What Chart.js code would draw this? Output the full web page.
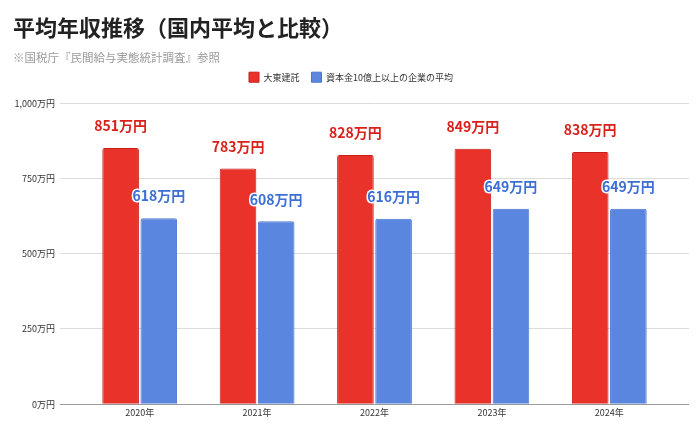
<!DOCTYPE html>
<html>
<head>
<meta charset="utf-8">
<script src="https://cdn.jsdelivr.net/npm/chart.js@4"></script>
<style>
  html, body { margin: 0; padding: 0; background: #fff; }
  #wrap { width: 700px; height: 438px; }
</style>
</head>
<body>
<div id="wrap"><canvas id="incomeChart"></canvas></div>
<script>
// ============================================
// DATA
// ============================================
const yearLabels   = ['2020年', '2021年', '2022年', '2023年', '2024年'];
const daitoValues  = [851, 783, 828, 849, 838];
const averageValues = [618, 608, 616, 649, 649];
const seriesNames  = ['大東建託', '資本金10億上以上の企業の平均'];
const yTicks       = [0, 250, 500, 750, 1000];

const FONT = '"Noto Sans CJK JP", "Noto Sans", sans-serif';
const RED = '#e8322a';
const BLUE = '#5a86e0';

// draw value labels above each bar
const valueLabels = {
    id: 'valueLabels',
    afterDatasetsDraw(chart) {
        const c = chart.ctx;
        const colors = ['#d8211b', '#3c6fd4'];
        chart.data.datasets.forEach((ds, di) => {
            chart.getDatasetMeta(di).data.forEach((bar, i) => {
                const txt = ds.data[i] + '万円';
                c.save();
                c.font = 'bold 14px ' + FONT;
                c.textAlign = 'center';
                c.textBaseline = 'middle';
                if (di === 1) {
                    c.lineWidth = 3;
                    c.lineJoin = 'round';
                    c.strokeStyle = '#fff';
                    c.strokeText(txt, bar.x, bar.y - 22);
                }
                c.fillStyle = colors[di];
                c.fillText(txt, bar.x, bar.y - 22);
                c.restore();
            });
        });
    }
};

// extra space under the legend
const legendGap = {
    id: 'legendGap',
    beforeInit(chart) {
        const fit = chart.legend.fit;
        chart.legend.fit = function () {
            fit.bind(chart.legend)();
            this.height += 11;
        };
    }
};

const gridColor = ctx => (ctx.tick && ctx.tick.value === 0) ? '#9a9a9a' : '#dcdcdc';

new Chart(document.getElementById('incomeChart'), {
    type: 'bar',
    data: {
        labels: yearLabels,
        datasets: [
            {
                label: seriesNames[0],
                data: daitoValues,
                backgroundColor: RED,
                borderColor: '#c61f19',
                borderWidth: 1,
                borderRadius: 2,
                borderSkipped: 'bottom',
                categoryPercentage: 0.65,
                barPercentage: 0.96,
                yAxisID: 'y'
            },
            {
                label: seriesNames[1],
                data: averageValues,
                backgroundColor: BLUE,
                borderColor: '#4a74cc',
                borderWidth: 1,
                borderRadius: 2,
                borderSkipped: 'bottom',
                categoryPercentage: 0.65,
                barPercentage: 0.96,
                yAxisID: 'y'
            }
        ]
    },
    options: {
        responsive: true,
        maintainAspectRatio: false,
        animation: false,
        layout: { padding: { left: 13, right: 11, top: 0, bottom: 17 } },
        plugins: {
            title: {
                display: true,
                text: '平均年収推移（国内平均と比較）',
                align: 'start',
                color: '#222',
                font: { family: FONT, size: 22, weight: 'bold' },
                padding: { top: 14, bottom: 10 }
            },
            subtitle: {
                display: true,
                text: '※国税庁『民間給与実態統計調査』参照',
                align: 'start',
                color: '#9a9a9a',
                font: { family: FONT, size: 11.5 },
                padding: { top: 0, bottom: -4 }
            },
            legend: {
                position: 'top',
                padding: 0,
                labels: {
                    boxWidth: 10,
                    boxHeight: 10,
                    padding: 12,
                    color: '#333',
                    font: { family: FONT, size: 9 }
                }
            },
            tooltip: { enabled: false }
        },
        scales: {
            x: {
                grid: { display: false, drawTicks: false },
                border: { display: false },
                ticks: { color: '#333', font: { family: FONT, size: 9 }, padding: 3 }
            },
            y: {
                position: 'left',
                min: 0,
                max: 1000,
                afterBuildTicks: s => { s.ticks = yTicks.map(v => ({ value: v })); },
                afterFit: s => { s.width = 68; },
                grid: { color: gridColor, tickLength: 21 },
                border: { display: false },
                ticks: {
                    color: '#333',
                    font: { family: FONT, size: 9 },
                    padding: 5,
                    callback: v => v.toLocaleString('en-US') + '万円'
                }
            },
            y2: {
                position: 'right',
                min: 0,
                max: 1000,
                afterBuildTicks: s => { s.ticks = yTicks.map(v => ({ value: v })); },
                grid: { color: gridColor, tickLength: 21, drawOnChartArea: false },
                border: { display: false },
                ticks: { display: false }
            }
        }
    },
    plugins: [valueLabels, legendGap]
});
</script>
</body>
</html>
